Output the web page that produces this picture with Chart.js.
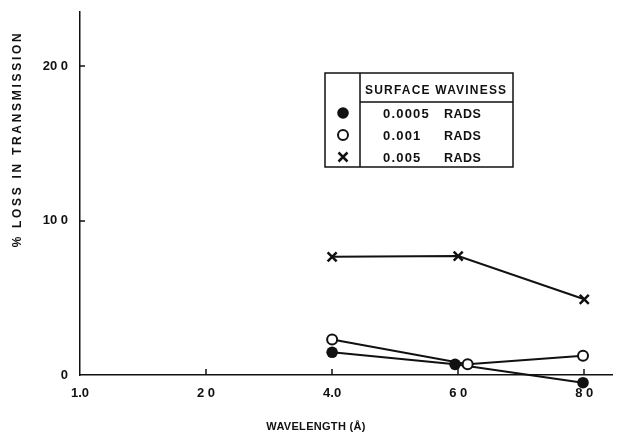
<!DOCTYPE html>
<html>
<head>
<meta charset="utf-8">
<script src="https://cdn.jsdelivr.net/npm/chart.js@4"></script>
<style>
  html, body { margin: 0; padding: 0; background: #fff; }
</style>
</head>
<body>
<canvas id="lossChart" width="618" height="441"></canvas>
<script>
// axis ticks (labels as printed on the original figure)
const wavelengthTicks = [0, 20, 40, 60, 80];
const wavelengthTickLabels = ['1.0', '2 0', '4.0', '6 0', '8 0'];
const lossTicks = [0, 10, 20];
const lossTickLabels = ['0', '10 0', '20 0'];

// series: wavelength (Å) vs % loss
const filledWavelength = [40, 59.5, 79.8];
const filledLoss = [1.47, 0.69, -0.5];
const openWavelength = [40, 61.5, 79.8];
const openLoss = [2.3, 0.69, 1.25];
const crossWavelength = [40, 60, 80];
const crossLoss = [7.65, 7.7, 4.9];

const legendTitle = 'SURFACE WAVINESS';
const legendUnit = 'RADS';
const xTitle = 'WAVELENGTH (Å)';
const yTitle = '% LOSS IN TRANSMISSION';

const ink = '#111';
const tickFont = { family: 'Liberation Sans', size: 13, weight: 'bold' };

function toPoints(xs, ys) {
  return xs.map((x, i) => ({ x, y: ys[i] }));
}

function drawMarker(ctx, style, x, y) {
  ctx.save();
  ctx.strokeStyle = ink;
  ctx.fillStyle = ink;
  if (style === 'filled') {
    ctx.beginPath();
    ctx.arc(x, y, 5.8, 0, Math.PI * 2);
    ctx.fill();
  } else if (style === 'open') {
    ctx.lineWidth = 2;
    ctx.fillStyle = '#fff';
    ctx.beginPath();
    ctx.arc(x, y, 5, 0, Math.PI * 2);
    ctx.fill();
    ctx.stroke();
  } else {
    ctx.lineWidth = 2.5;
    ctx.beginPath();
    ctx.moveTo(x - 4.5, y - 4.5);
    ctx.lineTo(x + 4.5, y + 4.5);
    ctx.moveTo(x + 4.5, y - 4.5);
    ctx.lineTo(x - 4.5, y + 4.5);
    ctx.stroke();
  }
  ctx.restore();
}

// small inward tick marks on both axes
const inwardTicks = {
  id: 'inwardTicks',
  beforeDatasetsDraw(chart) {
    const { ctx, chartArea, scales: { x, y } } = chart;
    ctx.save();
    ctx.strokeStyle = ink;
    ctx.lineWidth = 1.5;
    ctx.beginPath();
    wavelengthTicks.forEach((v) => {
      if (v === 0) return;
      const px = Math.round(x.getPixelForValue(v));
      ctx.moveTo(px, chartArea.bottom);
      ctx.lineTo(px, chartArea.bottom - 6);
    });
    lossTicks.forEach((v) => {
      if (v === 0) return;
      const py = Math.round(y.getPixelForValue(v));
      ctx.moveTo(chartArea.left, py);
      ctx.lineTo(chartArea.left + 5, py);
    });
    ctx.stroke();
    ctx.restore();
  },
};

// axis titles sit off-centre in the original, so place them by hand
const axisTitles = {
  id: 'axisTitles',
  afterDraw(chart) {
    const { ctx, chartArea } = chart;
    ctx.save();
    ctx.fillStyle = ink;
    ctx.textAlign = 'center';
    ctx.textBaseline = 'middle';
    ctx.font = 'bold 11px "Liberation Sans"';
    ctx.letterSpacing = '0.3px';
    ctx.fillText(xTitle, chartArea.left + 236, chartArea.bottom + 52);
    ctx.font = 'bold 12px "Liberation Sans"';
    ctx.translate(18, chartArea.top + 127);
    ctx.rotate(-Math.PI / 2);
    ctx.letterSpacing = '2.7px';
    ctx.fillText(yTitle, 0, 0);
    ctx.restore();
  },
};

// boxed table legend
const tableLegend = {
  id: 'tableLegend',
  afterDraw(chart) {
    const { ctx, chartArea } = chart;
    const left = chartArea.left + 245;
    const top = chartArea.top + 61;
    const w = 188;
    const h = 94;
    ctx.save();
    ctx.strokeStyle = ink;
    ctx.lineWidth = 1.5;
    ctx.strokeRect(left, top, w, h);
    ctx.beginPath();
    ctx.moveTo(left + 35, top);
    ctx.lineTo(left + 35, top + h);
    ctx.moveTo(left + 35, top + 29);
    ctx.lineTo(left + w, top + 29);
    ctx.stroke();

    ctx.fillStyle = ink;
    ctx.font = 'bold 12px "Liberation Sans"';
    ctx.textBaseline = 'alphabetic';
    ctx.letterSpacing = '1.2px';
    ctx.fillText(legendTitle, left + 40, top + 20.5);

    chart.data.datasets.forEach((ds, i) => {
      const rowY = top + 40 + i * 22;
      drawMarker(ctx, ds.marker, left + 18, rowY);
      ctx.font = 'bold 13px "Liberation Sans"';
      ctx.letterSpacing = '1.2px';
      ctx.fillText(ds.label, left + 58, rowY + 4.7);
      ctx.font = 'bold 12.5px "Liberation Sans"';
      ctx.letterSpacing = '0.5px';
      ctx.fillText(legendUnit, left + 119, rowY + 4.7);
    });
    ctx.restore();
  },
};

// draw our own markers so they match the printed symbols
const markerPoints = {
  id: 'markerPoints',
  afterDatasetsDraw(chart) {
    const { ctx } = chart;
    chart.data.datasets.forEach((ds, i) => {
      chart.getDatasetMeta(i).data.forEach((pt) => {
        drawMarker(ctx, ds.marker, pt.x, pt.y);
      });
    });
  },
};

const lineStyle = {
  borderColor: ink,
  borderWidth: 2,
  tension: 0,
  pointRadius: 0,
  pointHoverRadius: 0,
  clip: false,
  fill: false,
};

const config = {
  type: 'line',
  data: {
    datasets: [
      { label: '0.0005', marker: 'filled', data: toPoints(filledWavelength, filledLoss), ...lineStyle },
      { label: '0.001', marker: 'open', data: toPoints(openWavelength, openLoss), ...lineStyle },
      { label: '0.005', marker: 'cross', data: toPoints(crossWavelength, crossLoss), ...lineStyle },
    ],
  },
  options: {
    responsive: false,
    animation: false,
    events: [],
    layout: { padding: { top: 12, right: 6, left: 0, bottom: 0 } },
    scales: {
      x: {
        type: 'linear',
        min: 0,
        max: 84.4,
        afterBuildTicks: (scale) => {
          scale.ticks = wavelengthTicks.map((value) => ({ value }));
        },
        afterFit: (scale) => {
          scale.height = 66;
          scale.paddingLeft = 0;
          scale.paddingRight = 0;
        },
        grid: { display: false, drawTicks: false },
        border: { display: true, color: ink, width: 1.5 },
        ticks: {
          padding: 11,
          color: ink,
          font: tickFont,
          maxRotation: 0,
          autoSkip: false,
          callback: (value) => wavelengthTickLabels[wavelengthTicks.indexOf(value)] ?? '',
        },
      },
      y: {
        type: 'linear',
        min: 0,
        max: 23.5,
        afterBuildTicks: (scale) => {
          scale.ticks = lossTicks.map((value) => ({ value }));
        },
        afterFit: (scale) => {
          scale.width = 80;
          scale.paddingTop = 0;
          scale.paddingBottom = 0;
        },
        grid: { display: false, drawTicks: false },
        border: { display: true, color: ink, width: 1.5 },
        ticks: {
          padding: 12,
          color: ink,
          font: tickFont,
          autoSkip: false,
          callback: (value) => lossTickLabels[lossTicks.indexOf(value)] ?? '',
        },
      },
    },
    plugins: {
      legend: { display: false },
      tooltip: { enabled: false },
    },
  },
  plugins: [inwardTicks, markerPoints, axisTitles, tableLegend],
};

new Chart(document.getElementById('lossChart').getContext('2d'), config);
</script>
</body>
</html>
